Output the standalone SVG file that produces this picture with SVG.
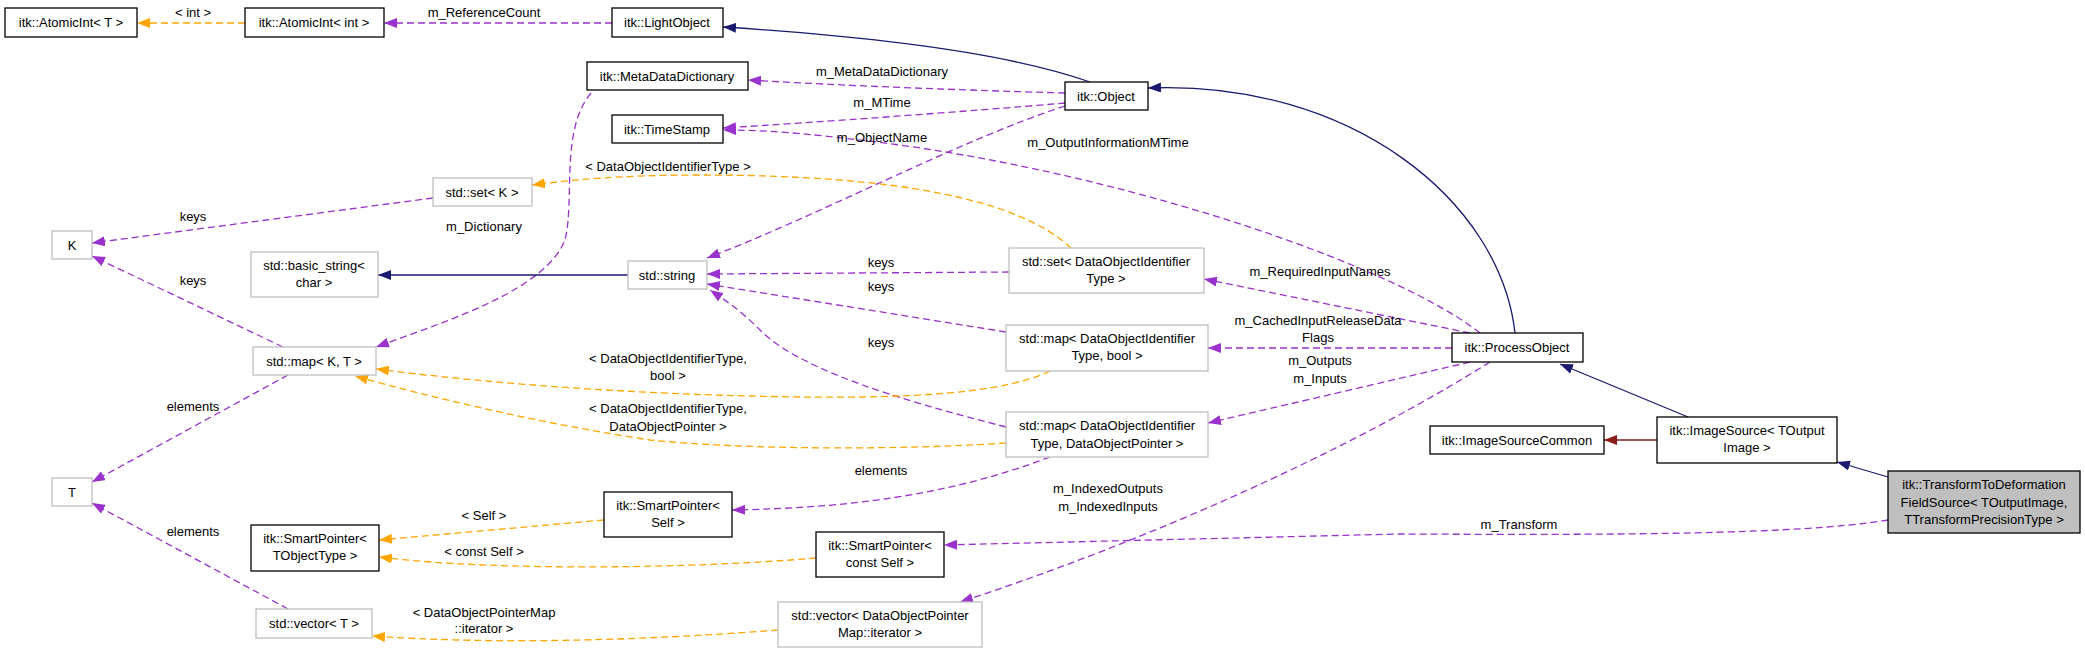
<svg xmlns="http://www.w3.org/2000/svg" width="2085" height="652" viewBox="0 0 2085 652">
<style>
text{font-family:"Liberation Sans",Arial,sans-serif;font-size:13px;fill:#000;text-anchor:middle}
.n{fill:#fff;stroke:#000;stroke-width:1.3}
.g{fill:#fff;stroke:#bfbfbf;stroke-width:1.3}
.e{fill:none;stroke-width:1.3}
.p{stroke:#9a32cd;stroke-dasharray:7,4;marker-end:url(#mp)}
.o{stroke:#ffa500;stroke-dasharray:7,4;marker-end:url(#mo)}
.b{stroke:#191970;marker-end:url(#mb)}
.r{stroke:#8b1a1a;marker-end:url(#mr)}
</style>
<defs>
<marker id="mp" markerWidth="13" markerHeight="10" refX="13" refY="5" orient="auto" markerUnits="userSpaceOnUse"><path d="M0,0L13,5L0,10z" fill="#9a32cd"/></marker>
<marker id="mo" markerWidth="13" markerHeight="10" refX="13" refY="5" orient="auto" markerUnits="userSpaceOnUse"><path d="M0,0L13,5L0,10z" fill="#ffa500"/></marker>
<marker id="mb" markerWidth="13" markerHeight="10" refX="13" refY="5" orient="auto" markerUnits="userSpaceOnUse"><path d="M0,0L13,5L0,10z" fill="#191970"/></marker>
<marker id="mr" markerWidth="13" markerHeight="10" refX="13" refY="5" orient="auto" markerUnits="userSpaceOnUse"><path d="M0,0L13,5L0,10z" fill="#8b1a1a"/></marker>
</defs>
<rect width="2085" height="652" fill="#fff"/>
<g id="edges">
<path class="e o" d="M245,23L137,23"/><text x="193" y="17">&lt; int &gt;</text>
<path class="e p" d="M612,23L384,23"/><text x="484" y="17">m_ReferenceCount</text>
<path class="e b" d="M1090,82C1000,50 850,35 723,27"/>
<path class="e b" d="M1515,333C1500,200 1350,80 1148,88"/>
<path class="e p" d="M1065,93C960,90 850,86 748,80"/><text x="882" y="76">m_MetaDataDictionary</text>
<path class="e p" d="M1065,103C960,112 820,122 723,128"/><text x="882" y="107">m_MTime</text>
<path class="e p" d="M1480,333C1400,270 1150,180 900,145C800,132 760,130 723,130"/><text x="1108" y="147">m_OutputInformationMTime</text>
<path class="e p" d="M1065,106C960,140 820,215 707,258"/><text x="882" y="142">m_ObjectName</text>
<path class="e p" d="M591,93C560,130 575,200 565,240C545,290 450,320 376,347"/><text x="484" y="231">m_Dictionary</text>
<path class="e p" d="M433,198L92,243"/><text x="193" y="221">keys</text>
<path class="e p" d="M283,347L92,256"/><text x="193" y="285">keys</text>
<path class="e o" d="M1071,248C1020,200 900,175 700,175C620,175 570,180 532,185"/><text x="668" y="171">&lt; DataObjectIdentifierType &gt;</text>
<path class="e b" d="M628,275L378,275"/>
<path class="e p" d="M1009,272L707,274"/><text x="881" y="267">keys</text>
<path class="e p" d="M1006,332L707,284"/><text x="881" y="291">keys</text>
<path class="e p" d="M1006,427C900,400 800,370 760,330C740,310 725,300 710,290"/><text x="881" y="347">keys</text>
<path class="e p" d="M1470,333L1204,279"/><text x="1320" y="276">m_RequiredInputNames</text>
<path class="e p" d="M1452,348L1208,348"/><text x="1318" y="325">m_CachedInputReleaseData</text><text x="1318" y="342">Flags</text>
<path class="e p" d="M1470,362L1208,423"/><text x="1320" y="365">m_Outputs</text><text x="1320" y="383">m_Inputs</text>
<path class="e p" d="M1490,362C1350,450 1150,540 960,602"/><text x="1108" y="493">m_IndexedOutputs</text><text x="1108" y="511">m_IndexedInputs</text>
<path class="e o" d="M1050,371C1000,395 900,398 800,397C650,395 500,385 376,369"/><text x="668" y="363">&lt; DataObjectIdentifierType,</text><text x="668" y="380">bool &gt;</text>
<path class="e o" d="M1006,443C900,450 750,450 650,440C550,425 440,400 355,376"/><text x="668" y="413">&lt; DataObjectIdentifierType,</text><text x="668" y="431">DataObjectPointer &gt;</text>
<path class="e p" d="M1050,457C950,495 850,508 732,510"/><text x="881" y="475">elements</text>
<path class="e p" d="M288,375L92,482"/><text x="193" y="411">elements</text>
<path class="e p" d="M288,609L92,503"/><text x="193" y="536">elements</text>
<path class="e o" d="M604,520L379,540"/><text x="484" y="520">&lt; Self &gt;</text>
<path class="e o" d="M816,558C700,568 500,572 379,557"/><text x="484" y="556">&lt; const Self &gt;</text>
<path class="e o" d="M778,630C650,640 500,645 372,636"/><text x="484" y="617">&lt; DataObjectPointerMap</text><text x="484" y="633">::iterator &gt;</text>
<path class="e p" d="M1888,520C1800,535 1600,535 1400,534L944,545"/><text x="1519" y="529">m_Transform</text>
<path class="e b" d="M1688,417L1560,364"/>
<path class="e r" d="M1657,440L1604,440"/>
<path class="e b" d="M1888,477L1837,462"/>
</g>
<g id="n1"><rect class="n" x="5" y="8" width="132" height="29"/><text x="71" y="27">itk::AtomicInt&lt; T &gt;</text></g>
<g id="n2"><rect class="n" x="245" y="8" width="139" height="29"/><text x="314" y="27">itk::AtomicInt&lt; int &gt;</text></g>
<g id="n3"><rect class="n" x="612" y="8" width="111" height="29"/><text x="667" y="27">itk::LightObject</text></g>
<g id="n4"><rect class="n" x="587" y="62" width="161" height="28"/><text x="667" y="81">itk::MetaDataDictionary</text></g>
<g id="n5"><rect class="n" x="1065" y="82" width="83" height="28"/><text x="1106" y="101">itk::Object</text></g>
<g id="n6"><rect class="n" x="612" y="115" width="111" height="28"/><text x="667" y="134">itk::TimeStamp</text></g>
<g id="n7"><rect class="g" x="433" y="178" width="99" height="28"/><text x="482" y="197">std::set&lt; K &gt;</text></g>
<g id="n8"><rect class="g" x="52" y="231" width="40" height="28"/><text x="72" y="250">K</text></g>
<g id="n9"><rect class="g" x="251" y="252" width="127" height="45"/><text x="314" y="270">std::basic_string&lt;</text><text x="314" y="287">char &gt;</text></g>
<g id="n10"><rect class="g" x="628" y="261" width="79" height="28"/><text x="667" y="280">std::string</text></g>
<g id="n11"><rect class="g" x="1009" y="248" width="195" height="45"/><text x="1106" y="266">std::set&lt; DataObjectIdentifier</text><text x="1106" y="283">Type &gt;</text></g>
<g id="n12"><rect class="g" x="253" y="347" width="123" height="28"/><text x="314" y="366">std::map&lt; K, T &gt;</text></g>
<g id="n13"><rect class="g" x="1006" y="325" width="202" height="46"/><text x="1107" y="343">std::map&lt; DataObjectIdentifier</text><text x="1107" y="360">Type, bool &gt;</text></g>
<g id="n14"><rect class="n" x="1452" y="333" width="131" height="29"/><text x="1517" y="352">itk::ProcessObject</text></g>
<g id="n15"><rect class="g" x="1006" y="412" width="202" height="45"/><text x="1107" y="430">std::map&lt; DataObjectIdentifier</text><text x="1107" y="448">Type, DataObjectPointer &gt;</text></g>
<g id="n16"><rect class="n" x="1430" y="426" width="174" height="28"/><text x="1517" y="445">itk::ImageSourceCommon</text></g>
<g id="n17"><rect class="n" x="1657" y="417" width="180" height="46"/><text x="1747" y="435">itk::ImageSource&lt; TOutput</text><text x="1747" y="452">Image &gt;</text></g>
<g id="n18"><rect x="1888" y="471" width="192" height="62" fill="#bfbfbf" stroke="#000" stroke-width="1.3"/><text x="1984" y="489">itk::TransformToDeformation</text><text x="1984" y="507">FieldSource&lt; TOutputImage,</text><text x="1984" y="524">TTransformPrecisionType &gt;</text></g>
<g id="n19"><rect class="g" x="52" y="478" width="40" height="28"/><text x="72" y="497">T</text></g>
<g id="n20"><rect class="n" x="604" y="492" width="128" height="45"/><text x="668" y="510">itk::SmartPointer&lt;</text><text x="668" y="527">Self &gt;</text></g>
<g id="n21"><rect class="n" x="251" y="525" width="128" height="46"/><text x="315" y="543">itk::SmartPointer&lt;</text><text x="315" y="560">TObjectType &gt;</text></g>
<g id="n22"><rect class="n" x="816" y="532" width="128" height="45"/><text x="880" y="550">itk::SmartPointer&lt;</text><text x="880" y="567">const Self &gt;</text></g>
<g id="n23"><rect class="g" x="256" y="609" width="116" height="29"/><text x="314" y="628">std::vector&lt; T &gt;</text></g>
<g id="n24"><rect class="g" x="778" y="602" width="204" height="45"/><text x="880" y="620">std::vector&lt; DataObjectPointer</text><text x="880" y="637">Map::iterator &gt;</text></g>
</svg>
